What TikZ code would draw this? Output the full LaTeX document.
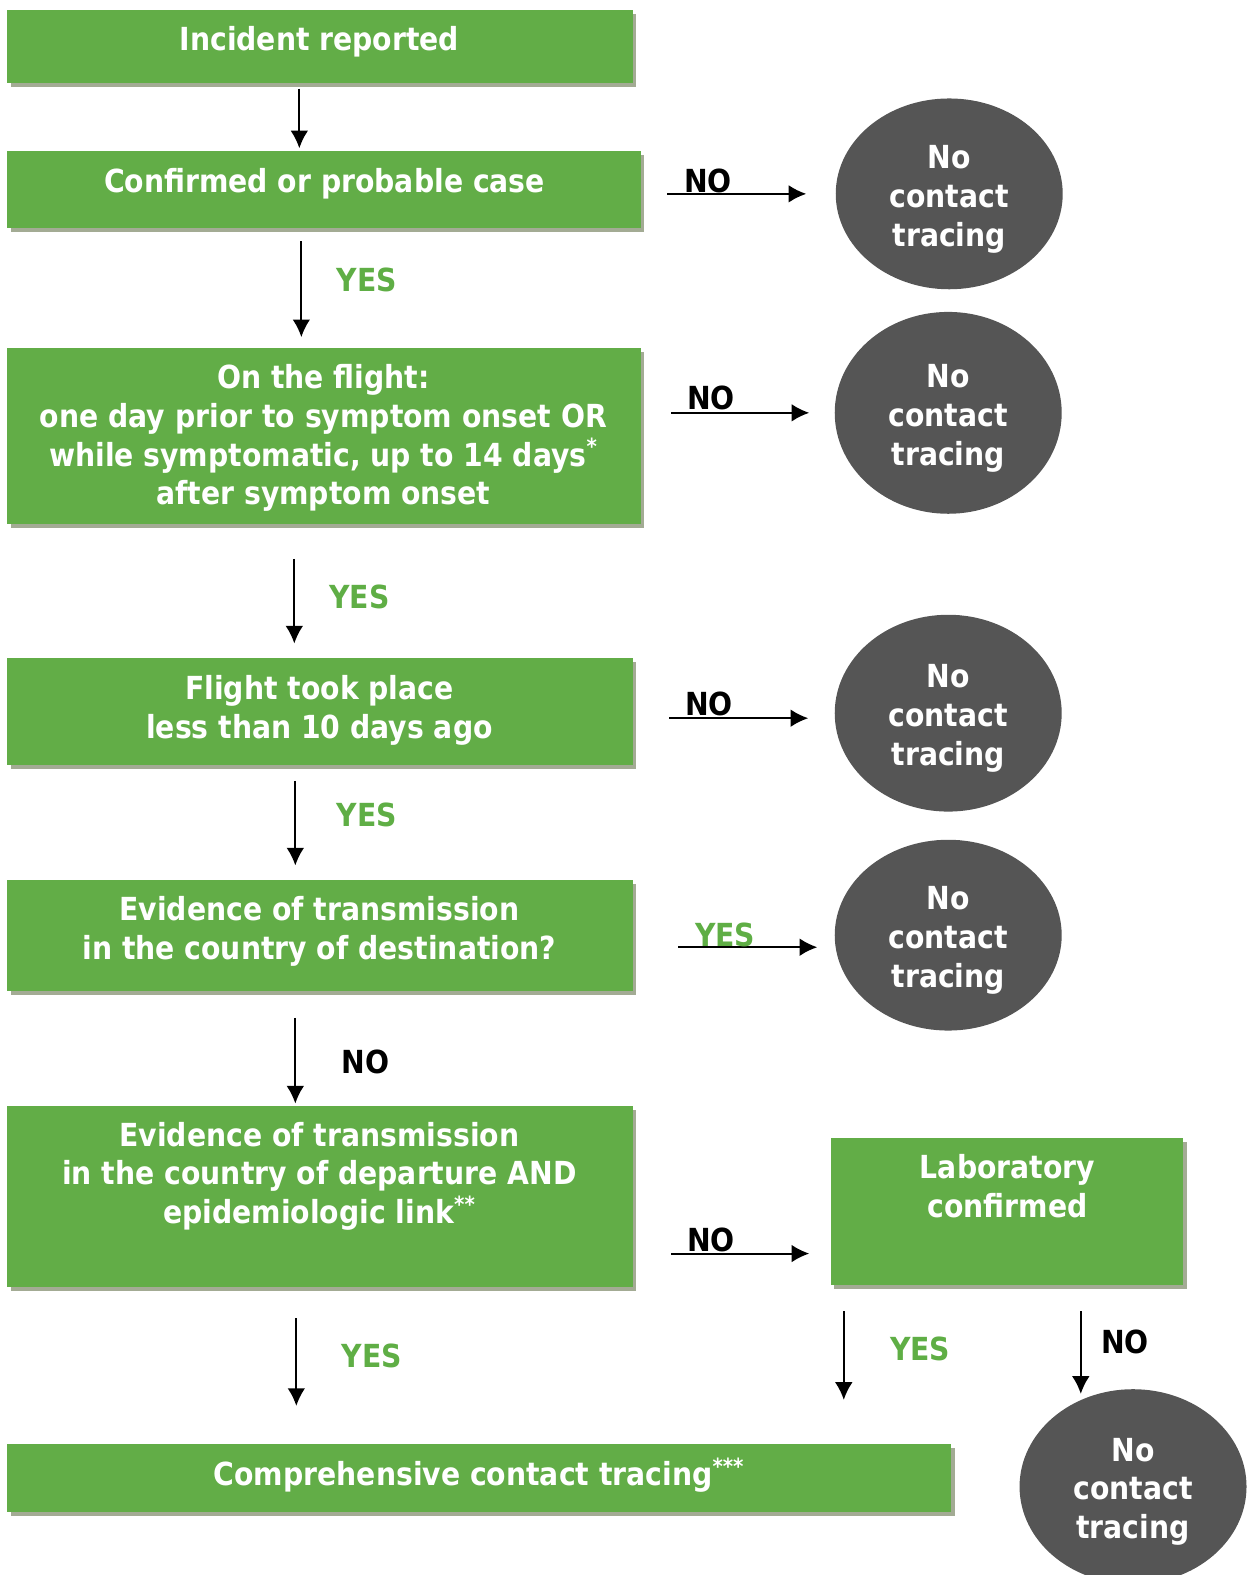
\documentclass[tikz,border=0pt]{standalone}
\usepackage{fontspec}
\setmainfont{DejaVu Sans}[FakeStretch=0.89]
\usetikzlibrary{arrows.meta,shapes.geometric,shadows,fit}
\definecolor{boxgreen}{RGB}{98,173,71}
\definecolor{shadowgray}{RGB}{163,171,148}
\definecolor{circlegray}{RGB}{85,85,85}
\definecolor{yesgreen}{RGB}{95,174,69}
\tikzstyle{greenbox}=[rectangle,fill=boxgreen,inner sep=0pt,drop shadow={shadow xshift=0.07cm,shadow yshift=-0.08cm,fill=shadowgray,opacity=1}]
\tikzstyle{boxtext}=[text=white,font=\fontsize{18}{22}\selectfont\bfseries,align=center,inner sep=0pt]
\tikzstyle{stopnode}=[ellipse,fill=circlegray,text=white,minimum width=4.52cm,minimum height=3.9cm,inner sep=0pt,align=center,font=\fontsize{18}{22}\selectfont\bfseries]
\tikzstyle{flow}=[draw,line width=1.1pt,-{Latex[length=10pt,width=10pt]}]
\tikzstyle{yeslabel}=[text=yesgreen,inner sep=0pt,font=\fontsize{18}{22}\selectfont\bfseries]
\tikzstyle{nolabel}=[text=black,inner sep=0pt,font=\fontsize{18}{22}\selectfont\bfseries]
\newcommand{\stoptext}{\rule{0pt}{19pt}No\\contact\\tracing}

\begin{document}
\begin{tikzpicture}[x=0.02cm,y=-0.02cm]
\useasboundingbox (0,0) rectangle (1241,1568);

% boxes
\node[greenbox,fit={(7,10) (630,83)}] (incident) {};
\node[greenbox,fit={(7,150) (638,227)}] (confirmed) {};
\node[greenbox,fit={(7,346) (638,522)}] (flight) {};
\node[greenbox,fit={(7,655) (630,762)}] (flighttime) {};
\node[greenbox,fit={(7,876) (630,987)}] (destination) {};
\node[greenbox,fit={(7,1101) (630,1281)}] (departure) {};
\node[greenbox,fit={(827,1133) (1178,1279)}] (lab) {};
\node[greenbox,fit={(7,1438) (947,1505)}] (comprehensive) {};

\node[boxtext] (incidenttext) at (318,42) {Incident reported};
\node[boxtext] (confirmedtext) at (323,183) {Confirmed or probable case};
\node[boxtext] (flighttext) at (322,436) {On the flight:\\one day prior to symptom onset OR\\while symptomatic, up to 14 days\textsuperscript{*}\\after symptom onset};
\node[boxtext] (flighttimetext) at (318,707) {Flight took place\\less than 10 days ago};
\node[boxtext] (destinationtext) at (318,927) {Evidence of transmission\\in the country of destination?};
\node[boxtext] (departuretext) at (318,1171) {Evidence of transmission\\in the country of departure AND\\epidemiologic link\textsuperscript{**}};
\node[boxtext] (labtext) at (1003,1181) {Laboratory\\confirmed};
\node[boxtext] (comprehensivetext) at (477,1469) {Comprehensive contact tracing\textsuperscript{***}};

% no contact tracing
\node[stopnode,minimum height=3.8cm] (stop1) at (945,193) {\stoptext};
\node[stopnode,minimum height=4.02cm] (stop2) at (944,411) {\stoptext};
\node[stopnode,minimum height=3.92cm] (stop3) at (944,710) {\stoptext};
\node[stopnode,minimum height=3.8cm] (stop4) at (944,931) {\stoptext};
\node[stopnode,minimum height=3.88cm] (stop5) at (1128,1480) {\stoptext};

% down arrows
\draw[flow,shorten <=0.1cm,shorten >=0.04cm] ([xshift=-0.41cm]incident.south) -- ([xshift=-0.41cm]incident.south |- confirmed.north);
\draw[flow,shorten <=0.26cm,shorten >=0.2cm] ([xshift=-0.45cm]confirmed.south) -- ([xshift=-0.45cm]confirmed.south |- flight.north);
\draw[flow,shorten <=0.68cm,shorten >=0.28cm] ([xshift=-0.59cm]flight.south) -- ([xshift=-0.59cm]flight.south |- flighttime.north);
\draw[flow,shorten <=0.3cm,shorten >=0.28cm] ([xshift=-0.49cm]flighttime.south) -- ([xshift=-0.49cm]flighttime.south |- destination.north);
\draw[flow,shorten <=0.52cm,shorten >=0.04cm] ([xshift=-0.49cm]destination.south) -- ([xshift=-0.49cm]destination.south |- departure.north);
\draw[flow,shorten <=0.62cm,shorten >=0.76cm] ([xshift=-0.47cm]departure.south) -- ([xshift=-0.47cm]departure.south |- comprehensive.north);
\draw[flow,shorten <=0.52cm,shorten >=0.88cm] ([xshift=-3.25cm]lab.south) -- ([xshift=-3.25cm]lab.south |- comprehensive.north);
\draw[flow,shorten <=0.52cm,shorten >=-0.1cm] ([xshift=1.47cm]lab.south) -- ([xshift=1.47cm]lab.south |- stop5.north);

% side arrows
\draw[flow,shorten <=0.52cm,shorten >=0.58cm] (confirmed.east |- stop1.center) -- (stop1.west);
\draw[flow,shorten <=0.6cm,shorten >=0.5cm] (flight.east |- stop2.center) -- (stop2.west);
\draw[flow,shorten <=0.72cm,shorten >=0.52cm] ([yshift=-0.1cm]flighttime.east |- stop3.center) -- ([yshift=-0.1cm]stop3.west);
\draw[flow,shorten <=0.9cm,shorten >=0.34cm] ([yshift=-0.24cm]destination.east |- stop4.center) -- ([yshift=-0.24cm]stop4.west);
\draw[flow,shorten <=0.76cm,shorten >=0.42cm] ([yshift=-1.14cm]departure.east) -- ([yshift=-1.14cm]departure.east -| lab.west);

% labels
\node[yeslabel] (yes1) at (365,279) {YES};
\node[yeslabel] (yes2) at (358,594) {YES};
\node[yeslabel] (yes3) at (365,811) {YES};
\node[nolabel] (no4) at (364,1057) {NO};
\node[yeslabel] (yes5) at (370,1350) {YES};
\node[yeslabel] (yes6) at (916,1343) {YES};
\node[nolabel] (no7) at (1120,1336) {NO};
\node[nolabel] (no1) at (705,180) {NO};
\node[nolabel] (no2) at (708,396) {NO};
\node[nolabel] (no3) at (706,701) {NO};
\node[yeslabel] (yes4) at (722,931) {YES};
\node[nolabel] (no5) at (708,1234) {NO};
\end{tikzpicture}
\end{document}
